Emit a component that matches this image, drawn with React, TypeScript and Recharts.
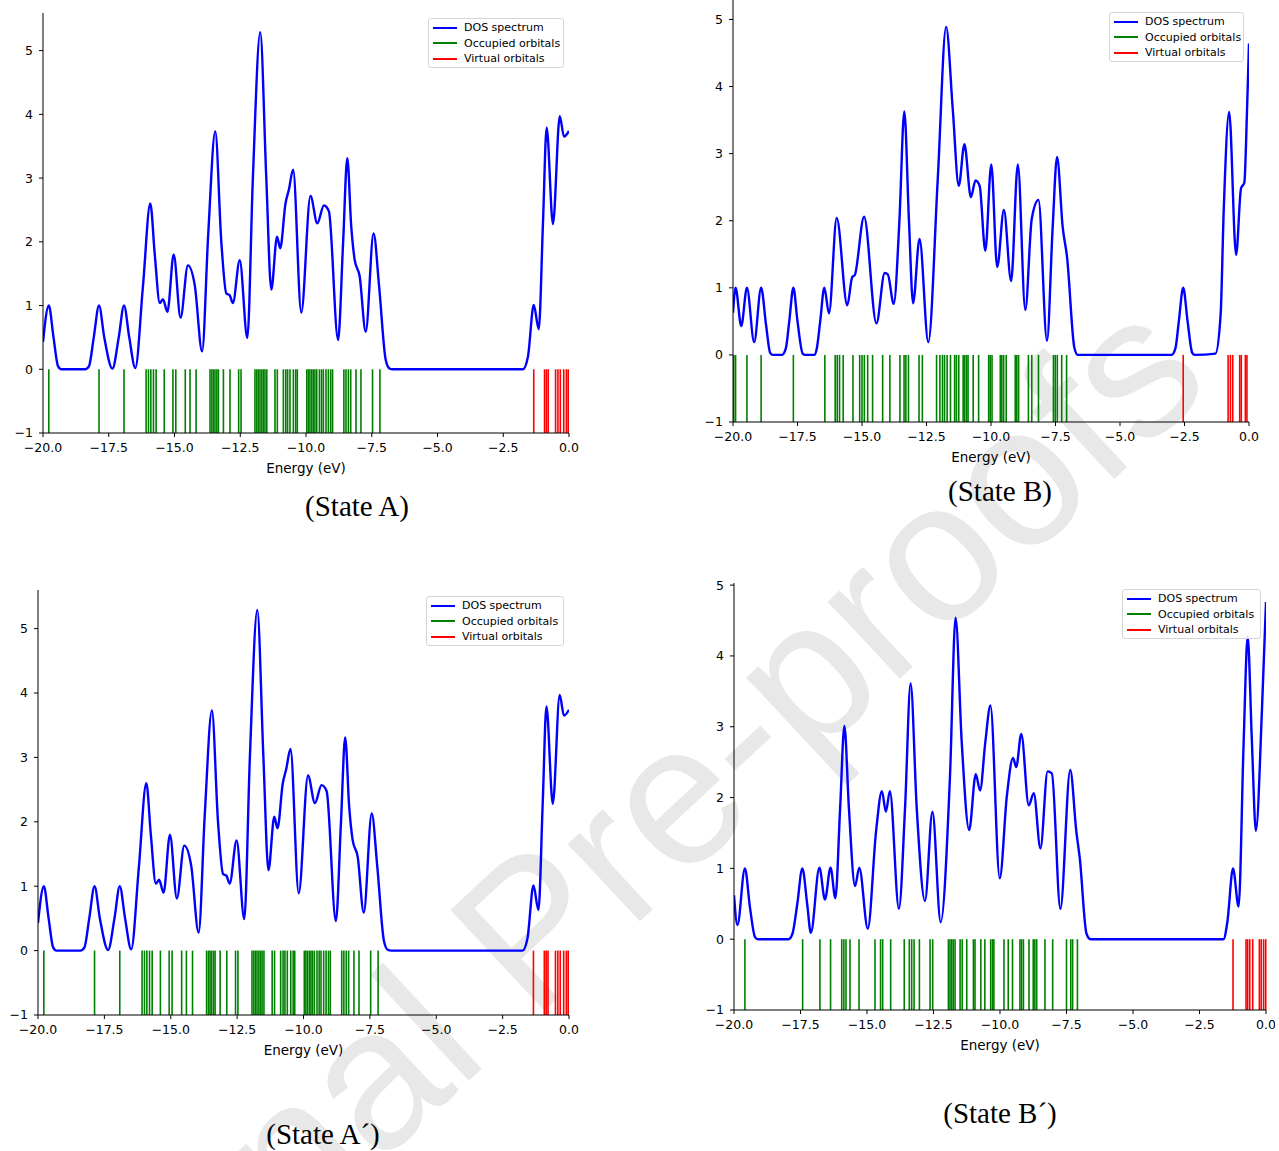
import React from 'react';
import { ComposedChart, Line, XAxis, YAxis, ReferenceLine } from 'recharts';

// ---- State A (State A´ is drawn from the same values) ----
const dosAEnergy = [-20, -19.78, -19.6, -19.43, -19.3, -18.4, -18.25, -18.07, -17.87, -17.67, -17.36, -17.12, -16.92, -16.72, -16.49, -16.2, -15.92, -15.75, -15.56, -15.44, -15.27, -15.03, -14.77, -14.49, -14.23, -13.95, -13.72, -13.45, -13.22, -13.03, -12.9, -12.78, -12.52, -12.23, -12.02, -11.74, -11.51, -11.32, -11.1, -10.98, -10.78, -10.65, -10.49, -10.18, -9.83, -9.57, -9.32, -9.13, -8.78, -8.59, -8.43, -8.28, -8.15, -7.96, -7.73, -7.43, -7.22, -6.97, -6.82, -6.7, -1.75, -1.56, -1.34, -1.15, -0.99, -0.85, -0.61, -0.35, -0.19, 0];
const dosAValue = [0.43, 1.0, 0.5, 0.05, 0, 0, 0.05, 0.5, 1.0, 0.5, 0.01, 0.5, 1.0, 0.5, 0.02, 1.3, 2.6, 1.8, 1.04, 1.1, 0.9, 1.8, 0.81, 1.63, 1.32, 0.28, 2.1, 3.73, 2.0, 1.19, 1.16, 1.04, 1.71, 0.49, 3.0, 5.29, 3.0, 1.25, 2.08, 1.9, 2.6, 2.82, 3.13, 0.89, 2.72, 2.29, 2.57, 2.48, 0.46, 1.98, 3.31, 2.24, 1.72, 1.46, 0.59, 2.13, 1.3, 0.15, 0.01, 0, 0, 0.2, 1.01, 0.63, 2.29, 3.79, 2.28, 3.97, 3.65, 3.74];
const occA = [-19.78, -17.87, -16.92, -16.08, -15.99, -15.9, -15.8, -15.7, -15.39, -15.06, -14.95, -14.59, -14.41, -14.18, -13.65, -13.58, -13.52, -13.46, -13.39, -13.33, -13.14, -12.89, -12.56, -12.47, -11.94, -11.87, -11.81, -11.75, -11.68, -11.62, -11.56, -11.49, -11.18, -11.09, -10.86, -10.77, -10.7, -10.61, -10.48, -10.39, -10.33, -9.97, -9.91, -9.85, -9.78, -9.72, -9.66, -9.59, -9.49, -9.41, -9.34, -9.24, -9.15, -9.06, -8.99, -8.56, -8.48, -8.39, -8.3, -8.1, -7.91, -7.47, -7.19];
const virtA = [-1.34, -0.93, -0.86, -0.79, -0.51, -0.42, -0.33, -0.2, -0.1, -0.03];

// ---- State B ----
const dosBEnergy = [-20, -19.9, -19.68, -19.46, -19.18, -18.91, -18.72, -18.56, -18.45, -18.1, -17.95, -17.82, -17.66, -17.5, -17.3, -17.2, -16.85, -16.75, -16.62, -16.46, -16.28, -15.98, -15.57, -15.38, -15.28, -14.92, -14.44, -14.12, -14.0, -13.77, -13.55, -13.36, -13.18, -13.02, -12.77, -12.43, -12.06, -11.74, -11.48, -11.25, -11.03, -10.78, -10.6, -10.44, -10.22, -9.99, -9.76, -9.5, -9.22, -8.96, -8.67, -8.42, -8.16, -7.83, -7.61, -7.44, -7.22, -7.05, -6.77, -6.64, -3.0, -2.85, -2.72, -2.55, -2.38, -2.2, -2.1, -1.3, -1.1, -0.98, -0.77, -0.5, -0.31, -0.18, -0.08, 0];
const dosBValue = [0.63, 1.0, 0.43, 1.0, 0.19, 1.0, 0.45, 0.03, 0, 0, 0.1, 0.5, 1.0, 0.5, 0.02, 0, 0, 0.1, 0.5, 1.0, 0.62, 2.04, 0.74, 1.16, 1.19, 2.06, 0.47, 1.22, 1.2, 0.76, 2.0, 3.63, 2.0, 0.77, 1.73, 0.19, 2.65, 4.89, 3.65, 2.52, 3.14, 2.35, 2.6, 2.52, 1.55, 2.84, 1.31, 2.16, 1.1, 2.84, 0.67, 2.03, 2.31, 0.21, 1.9, 2.95, 1.9, 1.45, 0.11, 0, 0, 0.1, 0.5, 1.0, 0.5, 0.03, 0, 0.02, 0.6, 2.15, 3.62, 1.49, 2.48, 2.57, 3.6, 4.64];
const occB = [-19.97, -19.9, -19.46, -18.91, -17.66, -16.44, -16.04, -15.96, -15.87, -15.73, -15.35, -15.09, -15.0, -14.91, -14.78, -14.59, -14.2, -13.92, -13.53, -13.37, -13.3, -13.2, -12.79, -12.66, -12.11, -11.98, -11.88, -11.8, -11.7, -11.57, -11.41, -11.34, -11.25, -11.08, -11.02, -10.95, -10.89, -10.69, -10.48, -10.09, -10.03, -9.96, -9.64, -9.58, -9.51, -9.41, -9.06, -9.0, -8.93, -8.55, -8.42, -8.16, -7.58, -7.51, -7.43, -7.26, -7.07];
const virtB = [-2.55, -0.81, -0.72, -0.63, -0.36, -0.3, -0.14, -0.08];

// ---- State B´ ----
const dosB2Energy = [-20, -19.87, -19.59, -19.4, -19.21, -19.1, -17.95, -17.8, -17.62, -17.43, -17.25, -17.11, -16.79, -16.58, -16.37, -16.19, -16.01, -15.85, -15.68, -15.45, -15.29, -14.97, -14.66, -14.44, -14.29, -14.14, -13.8, -13.57, -13.36, -13.13, -12.82, -12.54, -12.23, -11.88, -11.67, -11.44, -11.16, -10.91, -10.75, -10.55, -10.36, -10.01, -9.74, -9.51, -9.39, -9.2, -8.92, -8.73, -8.48, -8.21, -8.05, -7.73, -7.36, -7.13, -7.0, -6.75, -6.6, -1.6, -1.45, -1.24, -1.03, -0.84, -0.69, -0.53, -0.38, -0.15, 0];
const dosB2Value = [0.62, 0.2, 1.0, 0.45, 0.03, 0, 0, 0.08, 0.5, 1.0, 0.5, 0.09, 1.01, 0.56, 1.01, 0.58, 1.85, 3.01, 1.85, 0.75, 1.01, 0.15, 1.52, 2.09, 1.8, 2.09, 0.43, 1.85, 3.61, 1.85, 0.54, 1.8, 0.24, 2.3, 4.54, 2.79, 1.54, 2.33, 2.1, 2.79, 3.3, 0.86, 2.03, 2.56, 2.43, 2.9, 1.89, 2.06, 1.28, 2.37, 2.34, 0.43, 2.39, 1.52, 1.14, 0.08, 0, 0, 0.25, 1.0, 0.46, 2.79, 4.27, 2.79, 1.53, 3.26, 4.76];
const occB2 = [-19.59, -17.42, -16.77, -16.37, -15.95, -15.87, -15.79, -15.64, -15.3, -14.7, -14.49, -14.41, -14.11, -13.6, -13.41, -13.32, -13.23, -13.03, -12.63, -12.53, -11.94, -11.88, -11.82, -11.76, -11.69, -11.5, -11.42, -11.25, -11.0, -10.94, -10.72, -10.57, -10.35, -10.28, -10.23, -9.85, -9.69, -9.53, -9.25, -9.19, -9.12, -8.91, -8.75, -8.69, -8.62, -8.31, -8.02, -7.5, -7.34, -7.27, -7.09];
const virtB2 = [-1.24, -0.75, -0.69, -0.61, -0.5, -0.25, -0.18, -0.09, -0.01];

const X_TICKS = [-20, -17.5, -15, -12.5, -10, -7.5, -5, -2.5, 0];
const Y_TICKS = [-1, 0, 1, 2, 3, 4, 5];

const LEGEND_ITEMS = [
  { label: 'DOS spectrum', color: '#0000ff' },
  { label: 'Occupied orbitals', color: '#008000' },
  { label: 'Virtual orbitals', color: '#ff0000' },
];

const withMinus = (s: string) => s.replace('-', '\u2212');
const tickFont = { fontSize: 12.5, fill: '#000', fontFamily: 'DejaVu Sans' };

type PanelProps = {
  energy: number[];
  dos: number[];
  occ: number[];
  virt: number[];
  yMax: number;
  left: number;
  top: number;
  width: number;
  height: number;
  margin: { top: number; right: number; left: number; bottom: number };
  yAxisWidth: number;
  showTop: boolean;
};

const DosPanel = ({ energy, dos, occ, virt, yMax, left, top, width, height, margin, yAxisWidth, showTop }: PanelProps) => {
  const data = energy.map((e, i) => ({ e, dos: dos[i] }));
  return (
    <div style={{ position: 'absolute', left, top }}>
      <ComposedChart width={width} height={height} data={data} margin={margin}>
        <XAxis
          dataKey="e"
          type="number"
          domain={[-20, 0]}
          ticks={X_TICKS}
          allowDataOverflow
          interval={0}
          height={47}
          tickSize={4}
          tickMargin={6}
          stroke="#000"
          tick={tickFont}
          tickFormatter={(v: number) => withMinus(v.toFixed(1))}
          label={{ value: 'Energy (eV)', position: 'insideBottom', offset: 7, fill: '#000', fontSize: 13.5, fontFamily: 'DejaVu Sans' }}
        />
        <YAxis
          type="number"
          domain={[-1, yMax]}
          ticks={Y_TICKS}
          allowDataOverflow
          interval={0}
          width={yAxisWidth}
          tickSize={4}
          tickMargin={6}
          stroke="#000"
          tick={tickFont}
          tickFormatter={(v: number) => withMinus(String(v))}
        />
        <XAxis xAxisId="top" orientation="top" type="number" domain={[-20, 0]} height={0} tick={false} tickLine={false} axisLine={showTop ? { stroke: '#000' } : false} />
        <YAxis yAxisId="right" orientation="right" type="number" domain={[-1, yMax]} width={0} tick={false} tickLine={false} axisLine={{ stroke: '#000' }} />
        {occ.map((e, i) => (
          <ReferenceLine key={`o${i}`} segment={[{ x: e, y: -1 }, { x: e, y: 0 }]} stroke="#008000" strokeWidth={1.6} />
        ))}
        {virt.map((e, i) => (
          <ReferenceLine key={`v${i}`} segment={[{ x: e, y: -1 }, { x: e, y: 0 }]} stroke="#ff0000" strokeWidth={1.6} />
        ))}
        <Line dataKey="dos" type="monotone" stroke="#0000ff" strokeWidth={2.4} dot={false} isAnimationActive={false} />
      </ComposedChart>
    </div>
  );
};

const LegendBox = ({ left, top, width }: { left: number; top: number; width: number }) => (
  <div
    style={{
      position: 'absolute',
      left,
      top,
      width,
      height: 50,
      boxSizing: 'border-box',
      border: '1px solid #d5d5d5',
      borderRadius: 3,
      background: 'rgba(255,255,255,0.85)',
      padding: '1px 0 0 4px',
      fontFamily: 'DejaVu Sans',
      fontSize: 11,
      color: '#000',
    }}
  >
    {LEGEND_ITEMS.map((it) => (
      <div key={it.label} style={{ display: 'flex', alignItems: 'center', height: 15.6 }}>
        <span style={{ display: 'inline-block', width: 24, height: 2, background: it.color, marginRight: 7 }} />
        <span>{it.label}</span>
      </div>
    ))}
  </div>
);

const StateLabel = ({ text, cx, cy }: { text: string; cx: number; cy: number }) => (
  <div
    style={{
      position: 'absolute',
      left: cx - 100,
      top: cy - 17,
      width: 200,
      height: 34,
      lineHeight: '34px',
      textAlign: 'center',
      fontFamily: 'Liberation Serif',
      fontSize: 29,
      color: '#000',
    }}
  >
    {text}
  </div>
);

export default function App() {
  return (
    <div style={{ position: 'absolute', left: 0, top: 0, width: 1279, height: 1151, background: '#fff', overflow: 'hidden', fontFamily: 'DejaVu Sans' }}>
      <svg width={1279} height={1151} style={{ position: 'absolute', left: 0, top: 0 }}>
        <text
          x={1215}
          y={385}
          textAnchor="end"
          transform="rotate(-43 1215 385)"
          fontFamily="Liberation Sans"
          fontSize={200}
          fill="#e8e8e8"
        >
          Journal Pre-proofs
        </text>
      </svg>

      <DosPanel energy={dosAEnergy} dos={dosAValue} occ={occA} virt={virtA} yMax={5.59}
        left={0} top={0} width={585} height={480} margin={{ top: 13, right: 16, left: 0, bottom: 0 }} yAxisWidth={43} showTop />
      <DosPanel energy={dosBEnergy} dos={dosBValue} occ={occB} virt={virtB} yMax={5.29}
        left={690} top={0} width={575} height={469} margin={{ top: 0, right: 16, left: 0, bottom: 0 }} yAxisWidth={43} showTop={false} />
      <DosPanel energy={dosAEnergy} dos={dosAValue} occ={occA} virt={virtA} yMax={5.6}
        left={0} top={575} width={585} height={487} margin={{ top: 15, right: 16, left: 0, bottom: 0 }} yAxisWidth={38} showTop />
      <DosPanel energy={dosB2Energy} dos={dosB2Value} occ={occB2} virt={virtB2} yMax={5.03}
        left={690} top={570} width={585} height={487} margin={{ top: 13, right: 9, left: 0, bottom: 0 }} yAxisWidth={44} showTop />

      <LegendBox left={428} top={18} width={136} />
      <LegendBox left={1109} top={12} width={135} />
      <LegendBox left={426} top={596} width={138} />
      <LegendBox left={1122} top={589} width={139} />

      <StateLabel text="(State A)" cx={357} cy={506} />
      <StateLabel text="(State B)" cx={1000} cy={491} />
      <StateLabel text="(State A´)" cx={323} cy={1134} />
      <StateLabel text="(State B´)" cx={1000} cy={1113} />
    </div>
  );
}
